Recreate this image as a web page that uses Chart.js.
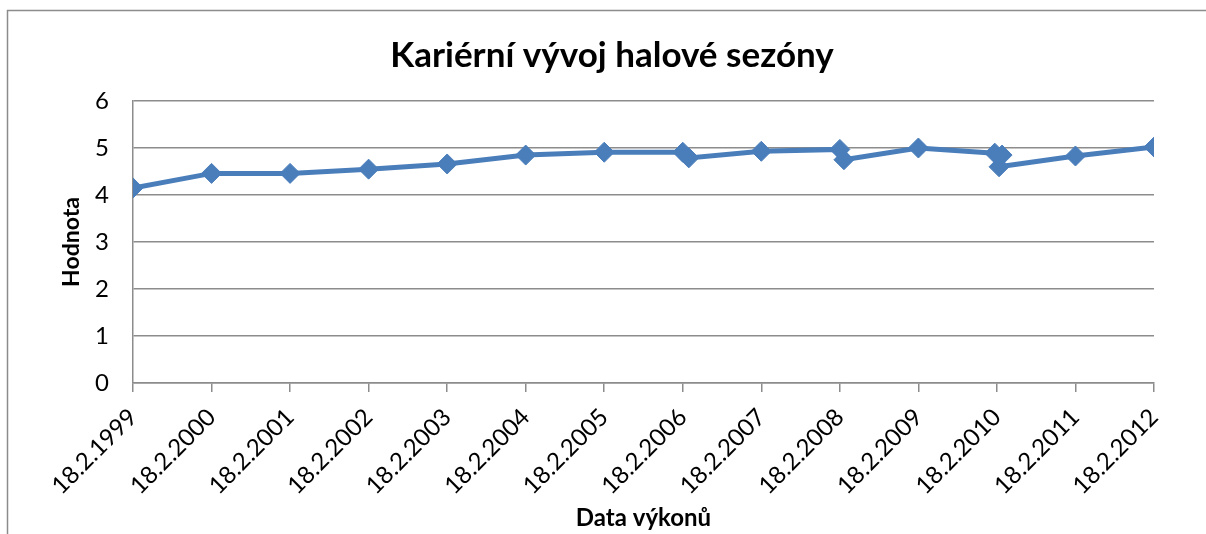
<!DOCTYPE html>
<html lang="cs">
<head>
<meta charset="utf-8">
<title>Kariérní vývoj halové sezóny</title>
<script src="https://cdn.jsdelivr.net/npm/chart.js@4/dist/chart.umd.min.js"></script>
<style>
  html, body { margin: 0; padding: 0; background: #fff; }
  canvas { display: block; }
</style>
</head>
<body>
<canvas id="chart" width="1206" height="534"></canvas>
<script>
// performance dates (several meets per season around 18.2.)
const perfDates = [
  "1999-02-18", "2000-02-18", "2001-02-18", "2002-02-18", "2003-02-18",
  "2004-02-18", "2005-02-18", "2006-02-18", "2006-03-18", "2007-02-18",
  "2008-02-18", "2008-03-08", "2009-02-18", "2010-02-08", "2010-03-14",
  "2010-02-28", "2011-02-18", "2012-02-18",
];
const perfValues = [
  4.15, 4.46, 4.46, 4.55, 4.66,
  4.85, 4.91, 4.91, 4.79, 4.93,
  4.97, 4.75, 5.0, 4.89, 4.85,
  4.6, 4.83, 5.02,
];
const tickYears = [1999, 2000, 2001, 2002, 2003, 2004, 2005, 2006, 2007, 2008, 2009, 2010, 2011, 2012];
const tickLabels = tickYears.map((y) => `18.2.${y}`);

// position on the axis in years, counted from 18.2. of the given year
function toAxisYear(str) {
  const [y, m, d] = str.split("-").map(Number);
  const base = Date.UTC(y, 1, 18);
  return y + (Date.UTC(y, m - 1, d) - base) / (365 * 864e5);
}

const gray = "#8c8c8c";
const blue = "#4a7ebb";

const outerBorder = {
  id: "outerBorder",
  beforeDraw(chart) {
    const ctx = chart.ctx;
    ctx.save();
    ctx.fillStyle = "#fff";
    ctx.fillRect(0, 0, chart.width, chart.height);
    ctx.strokeStyle = gray;
    ctx.lineWidth = 1.5;
    ctx.strokeRect(7.5, 10.5, 1400, 700);
    ctx.restore();
  },
};

new Chart(document.getElementById("chart"), {
  type: "line",
  data: {
    datasets: [
      {
        label: "Hodnota",
        data: perfDates.map((d, i) => ({ x: toAxisYear(d), y: perfValues[i] })),
        borderColor: blue,
        backgroundColor: blue,
        borderWidth: 5,
        pointStyle: "rectRot",
        pointRadius: 10,
        pointBorderWidth: 1,
        pointBorderColor: blue,
        pointBackgroundColor: blue,
        tension: 0,
      },
    ],
  },
  options: {
    responsive: false,
    animation: false,
    layout: { padding: { left: 18, right: 0, top: 0, bottom: 0 } },
    plugins: {
      legend: { display: false },
      tooltip: { enabled: false },
      title: {
        display: true,
        text: "Kariérní vývoj halové sezóny",
        color: "#000",
        font: { family: "Lato", size: 35, weight: "bold" },
        padding: { top: 35, bottom: 24 },
      },
    },
    scales: {
      x: {
        type: "linear",
        min: tickYears[0],
        max: tickYears[tickYears.length - 1],
        afterBuildTicks: (scale) => {
          scale.ticks = tickYears.map((v) => ({ value: v }));
        },
        afterFit: (scale) => {
          scale.height = 151;
        },
        border: { display: true, color: gray, width: 1.5 },
        grid: { drawOnChartArea: false, drawTicks: true, tickLength: 9, color: gray, lineWidth: 1.5 },
        ticks: {
          autoSkip: false,
          minRotation: 45,
          maxRotation: 45,
          padding: 11,
          color: "#000",
          font: { family: "Lato", size: 24 },
          callback: (value) => tickLabels[tickYears.indexOf(value)],
        },
        title: {
          display: true,
          text: "Data výkonů",
          color: "#000",
          font: { family: "Lato", size: 24, weight: "bold" },
          padding: { top: 0, bottom: 1 },
        },
      },
      y: {
        min: 0,
        max: 6,
        afterFit: (scale) => {
          scale.width = 115;
        },
        border: { display: true, color: gray, width: 1.5 },
        grid: { drawTicks: false, color: gray, lineWidth: 1.5 },
        ticks: {
          stepSize: 1,
          padding: 24,
          color: "#000",
          font: { family: "Lato", size: 24 },
        },
        title: {
          display: true,
          text: "Hodnota",
          color: "#000",
          font: { family: "Lato", size: 23, weight: "bold" },
          padding: { top: 40, bottom: 0 },
        },
      },
      // empty axis that keeps the right margin of the plot
      yRight: {
        position: "right",
        display: true,
        afterFit: (scale) => {
          scale.width = 52;
        },
        border: { display: false },
        grid: { display: false },
        ticks: { display: false },
      },
    },
  },
  plugins: [outerBorder],
});
</script>
</body>
</html>
